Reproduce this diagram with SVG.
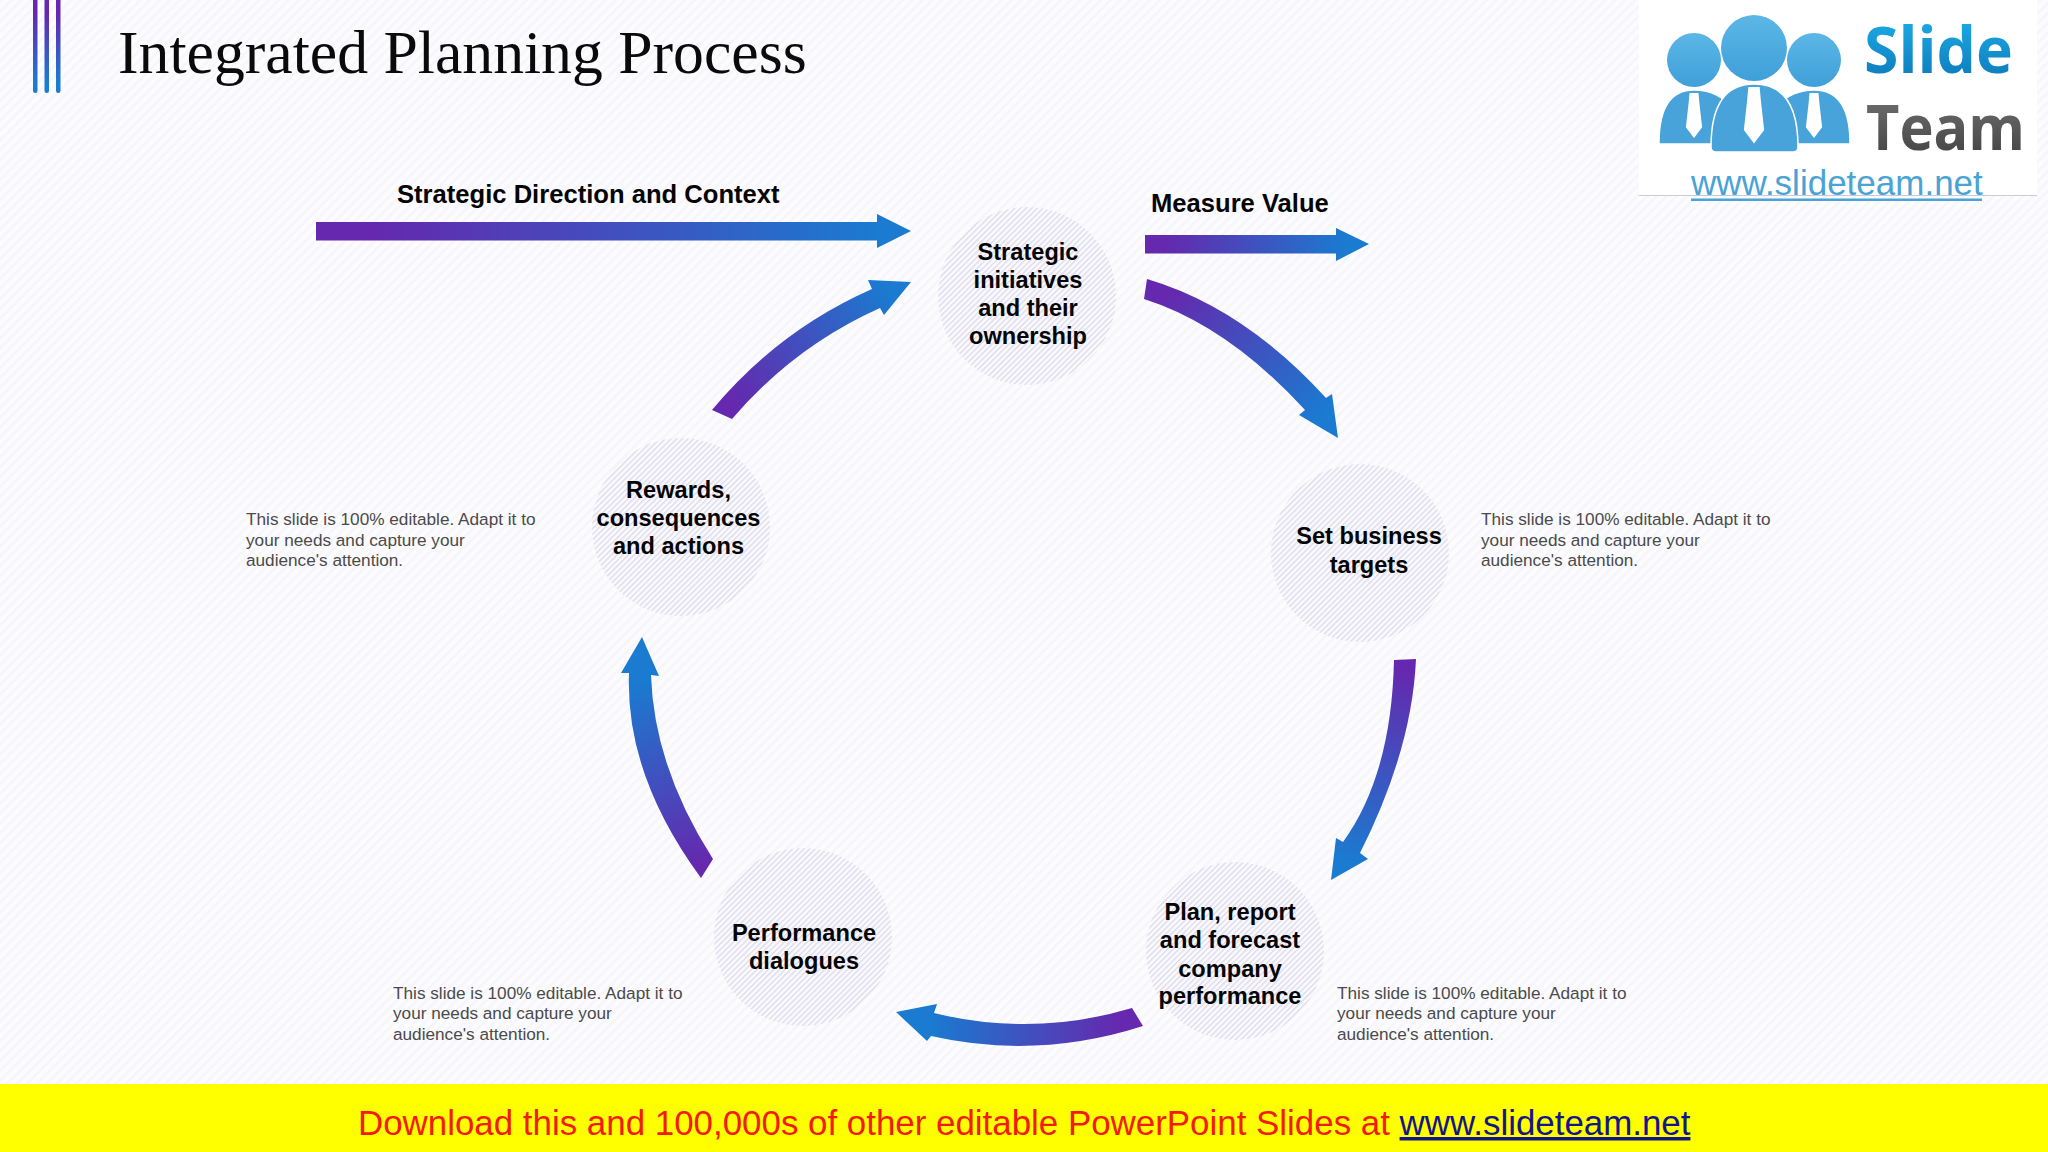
<svg xmlns="http://www.w3.org/2000/svg" width="2048" height="1152" viewBox="0 0 2048 1152">
<defs>
<pattern id="bgHatch" width="7" height="7" patternUnits="userSpaceOnUse" patternTransform="rotate(45)">
<rect width="7" height="7" fill="#fcfbfe"/><rect width="2.5" height="7" fill="#f6f6fa"/>
</pattern>
<pattern id="nodeHatch" width="4" height="4" patternUnits="userSpaceOnUse" patternTransform="rotate(45)">
<rect width="4" height="4" fill="#fbfafd"/><rect width="1.4" height="4" fill="#dcdaec"/>
</pattern>
<linearGradient id="gBar" x1="0" y1="0" x2="0" y2="1"><stop offset="0.2" stop-color="#6528ae"/><stop offset="0.9" stop-color="#1a7dd1"/></linearGradient>
<linearGradient id="g0" gradientUnits="userSpaceOnUse" x1="316" y1="0" x2="880" y2="0"><stop offset="0.1" stop-color="#6528ae"/><stop offset="1" stop-color="#1a7bd0"/></linearGradient>
<linearGradient id="g1" gradientUnits="userSpaceOnUse" x1="1145" y1="0" x2="1345" y2="0"><stop offset="0.1" stop-color="#6528ae"/><stop offset="1" stop-color="#1a7bd0"/></linearGradient>
<linearGradient id="g2" gradientUnits="userSpaceOnUse" x1="1170" y1="290" x2="1320" y2="420"><stop offset="0" stop-color="#6528ae"/><stop offset="1" stop-color="#1a7bd0"/></linearGradient>
<linearGradient id="g3" gradientUnits="userSpaceOnUse" x1="1405" y1="670" x2="1345" y2="860"><stop offset="0" stop-color="#6528ae"/><stop offset="1" stop-color="#1a7bd0"/></linearGradient>
<linearGradient id="g4" gradientUnits="userSpaceOnUse" x1="1120" y1="0" x2="930" y2="0"><stop offset="0" stop-color="#6528ae"/><stop offset="1" stop-color="#1a7bd0"/></linearGradient>
<linearGradient id="g5" gradientUnits="userSpaceOnUse" x1="700" y1="865" x2="642" y2="680"><stop offset="0" stop-color="#6528ae"/><stop offset="1" stop-color="#1a7bd0"/></linearGradient>
<linearGradient id="g6" gradientUnits="userSpaceOnUse" x1="730" y1="400" x2="890" y2="290"><stop offset="0" stop-color="#6528ae"/><stop offset="1" stop-color="#1a7bd0"/></linearGradient>
<linearGradient id="gSlide" x1="0" y1="0" x2="0" y2="1"><stop offset="0" stop-color="#20b6ee"/><stop offset="1" stop-color="#0a72b4"/></linearGradient>
<linearGradient id="gTeam" x1="0" y1="0" x2="0" y2="1"><stop offset="0" stop-color="#777"/><stop offset="1" stop-color="#3d3d3d"/></linearGradient>
<linearGradient id="gHead" x1="0" y1="0" x2="0" y2="1"><stop offset="0" stop-color="#5cb7e6"/><stop offset="1" stop-color="#3f9fd8"/></linearGradient>
<path id="tie" d="M-5,0 H5 L6,11 L9,38 L0,50 L-9,38 L-6,11 Z" fill="#fff"/>
</defs>
<style>
text{font-family:"Liberation Sans",Arial,sans-serif}
.node{fill:url(#nodeHatch)}
.lbl{font-size:23.6px;font-weight:700;fill:#050505;text-anchor:middle}
.hdr{font-size:25.6px;font-weight:700;fill:#050505}
.note{font-size:17.2px;fill:#4a4a4a}
.hd{fill:url(#gHead)}
.bd{fill:#47a3da;stroke:#fff;stroke-width:1.5}
</style>
<rect id="background" width="2048" height="1152" fill="url(#bgHatch)"/>
<g id="title-bars" fill="url(#gBar)">
<rect x="33" y="-6" width="4.5" height="99" rx="2.2"/>
<rect x="44.5" y="-6" width="4.5" height="99" rx="2.2"/>
<rect x="56" y="-6" width="4.5" height="99" rx="2.2"/>
</g>
<text id="title" x="118" y="73" style="font-family:'Liberation Serif','Times New Roman',serif;font-size:61.7px" fill="#0a0a0a">Integrated Planning Process</text>
<g id="logo">
<rect x="1639" y="0" width="398" height="195" fill="#fff"/>
<rect x="1639" y="195" width="398" height="1" fill="#c9ccd0"/>
<path class="bd" d="M1659,143 Q1659,90 1694,90 Q1720,90 1736,112 V144 H1661 Q1659,144 1659,143Z"/>
<path class="bd" d="M1850,143 Q1850,90 1814,90 Q1788,90 1772,112 V144 H1848 Q1850,144 1850,143Z"/>
<path class="bd" d="M1711,147 Q1711,84 1754,84 Q1798,84 1798,147 Q1798,152 1793,152 H1716 Q1711,152 1711,147Z"/>
<circle class="hd" cx="1694" cy="60" r="27"/>
<circle class="hd" cx="1814" cy="60" r="27"/>
<circle class="hd" cx="1754" cy="48" r="33"/>
<use href="#tie" transform="translate(1694,93) scale(.9)"/>
<use href="#tie" transform="translate(1814,93) scale(.9)"/>
<use href="#tie" transform="translate(1754,87) scale(1.13)"/>
<text x="1864" y="73" font-size="65" font-weight="700" fill="url(#gSlide)" textLength="149" lengthAdjust="spacingAndGlyphs" style="font-family:'Open Sans',sans-serif">Slide</text>
<text x="1866" y="150" font-size="63" font-weight="700" fill="url(#gTeam)" textLength="159" lengthAdjust="spacingAndGlyphs" style="font-family:'Open Sans',sans-serif">Team</text>
<text x="1691" y="195" font-size="35" fill="#4aa3d4">www.slideteam.net</text>
<rect x="1691" y="198.5" width="291" height="2.5" fill="#4aa3d4"/>
</g>
<g id="connectors">
<path id="arrow-direction" fill="url(#g0)" d="M316,222 H877 V214 L911,231 L877,248 V240.5 H316Z"/>
<path id="arrow-measure" fill="url(#g1)" d="M1145,235 H1336 V228 L1369,244 L1336,261 V253.5 H1145Z"/>
<path id="arrow-1" fill="url(#g2)" d="M1147,279 Q1243.5,307.5 1326,398 L1332,394 L1338,438 L1299,415 L1305,410 Q1227.5,325.5 1144,299Z"/>
<path id="arrow-2" fill="url(#g3)" d="M1416,659 Q1412,750 1360,853 L1368,859 L1331,880 L1336,838 L1343,842 Q1391.5,775 1394,660Z"/>
<path id="arrow-3" fill="url(#g4)" d="M1132,1008 Q1033,1037.5 934,1013 L937,1004 L896,1012 L927,1041 L931,1036 Q1037,1060 1143,1026Z"/>
<path id="arrow-4" fill="url(#g5)" d="M713,859 Q654,767 651,675 L659,676 L642,637 L621,673 L629,673 Q625,774.5 701,878Z"/>
<path id="arrow-5" fill="url(#g6)" d="M712,410 Q778,330.5 872,289 L868,280 L911,282 L884,315 L880,308 Q794,346.5 732,419Z"/>
</g>
<g id="node-strategic"><circle class="node" cx="1027" cy="296" r="89"/>
<text class="lbl"><tspan x="1028" y="260">Strategic</tspan><tspan x="1028" y="288">initiatives</tspan><tspan x="1028" y="316">and their</tspan><tspan x="1028" y="344">ownership</tspan></text></g>
<g id="node-targets"><circle class="node" cx="1360" cy="553" r="89"/>
<text class="lbl"><tspan x="1369" y="544">Set business</tspan><tspan x="1369" y="573">targets</tspan></text></g>
<g id="node-plan"><circle class="node" cx="1235" cy="951" r="89"/>
<text class="lbl"><tspan x="1230" y="920">Plan, report</tspan><tspan x="1230" y="948">and forecast</tspan><tspan x="1230" y="977">company</tspan><tspan x="1230" y="1004">performance</tspan></text></g>
<g id="node-performance"><circle class="node" cx="803" cy="937" r="89"/>
<text class="lbl"><tspan x="804" y="941">Performance</tspan><tspan x="804" y="969">dialogues</tspan></text></g>
<g id="node-rewards"><circle class="node" cx="681" cy="527" r="89"/>
<text class="lbl"><tspan x="678.5" y="498">Rewards,</tspan><tspan x="678.5" y="526">consequences</tspan><tspan x="678.5" y="554">and actions</tspan></text></g>
<g id="labels">
<text class="hdr" x="397" y="203">Strategic Direction and Context</text>
<text class="hdr" x="1151" y="212">Measure Value</text>
</g>
<g id="notes">
<text class="note"><tspan x="1481" y="525">This slide is 100% editable. Adapt it to</tspan><tspan x="1481" y="546">your needs and capture your</tspan><tspan x="1481" y="566">audience's attention.</tspan></text>
<text class="note"><tspan x="246" y="525">This slide is 100% editable. Adapt it to</tspan><tspan x="246" y="546">your needs and capture your</tspan><tspan x="246" y="566">audience's attention.</tspan></text>
<text class="note"><tspan x="393" y="999">This slide is 100% editable. Adapt it to</tspan><tspan x="393" y="1019">your needs and capture your</tspan><tspan x="393" y="1040">audience's attention.</tspan></text>
<text class="note"><tspan x="1337" y="999">This slide is 100% editable. Adapt it to</tspan><tspan x="1337" y="1019">your needs and capture your</tspan><tspan x="1337" y="1040">audience's attention.</tspan></text>
</g>
<g id="banner">
<rect x="0" y="1084" width="2048" height="68" fill="#ffff00"/>
<text x="358" y="1135" font-size="34.9" fill="#f41a0c">Download this and 100,000s of other editable PowerPoint Slides at <tspan fill="#14148c" text-decoration="underline">www.slideteam.net</tspan></text>
</g>
</svg>
